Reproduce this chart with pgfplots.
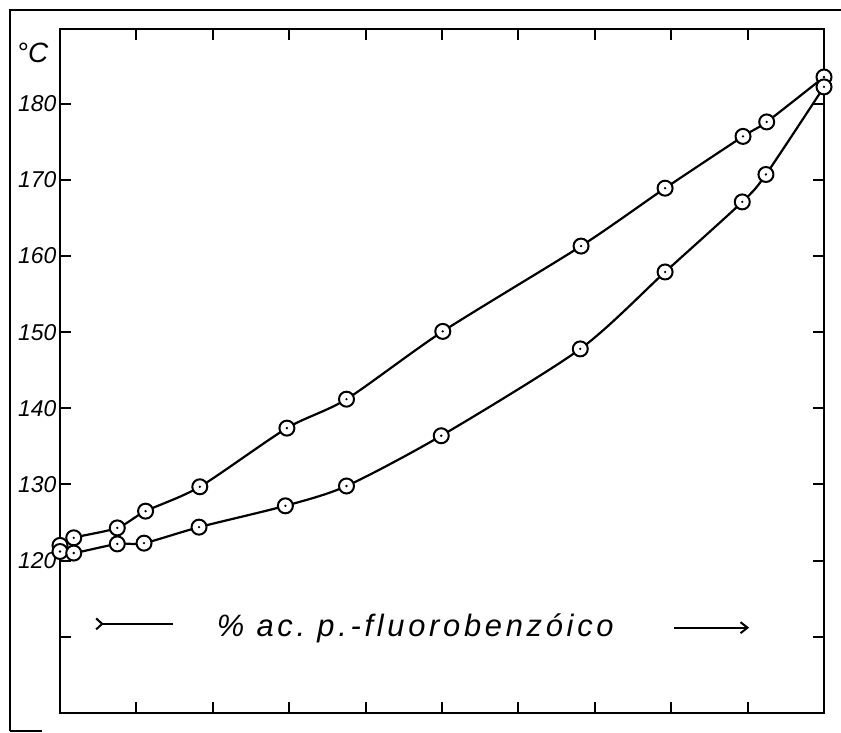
\documentclass[border=0pt]{standalone}
\usepackage{fontspec}
\setmainfont{Liberation Sans}
\usepackage{pgfplots}
\pgfplotsset{compat=1.18}
\usetikzlibrary{arrows.meta}
\pgfdeclareplotmark{odot}{%
  \pgfpathcircle{\pgfpointorigin}{\pgfplotmarksize}%
  \pgfsetfillcolor{white}\pgfusepathqfillstroke
  \pgfsetfillcolor{black}%
  \pgfpathcircle{\pgfpointorigin}{1.3bp}\pgfusepathqfill}
\begin{document}
\begin{tikzpicture}
\begin{axis}[
  at={(0,0)}, anchor=south west,
  scale only axis, width=764bp, height=684bp,
  xmin=0, xmax=100, ymin=100, ymax=189.8,
  axis line style={line width=2.2bp},
  xtick={10,20,...,90}, xticklabels={},
  ytick={110,120,...,180}, yticklabels={{},120,130,140,150,160,170,180},
  tick align=inside, major tick length=11bp,
  tick style={line width=2bp, black},
  yticklabel style={font=\fontsize{23}{23}\selectfont\itshape},
  /pgf/number format/assume math mode=true,
  clip=false,
]
\addplot[line width=2.2bp, smooth, tension=0.45, mark=odot, mark size=7.5bp, mark options={line width=2bp}] coordinates {
  (0,122.0) (1.8,123.0) (7.5,124.3) (11.2,126.5) (18.3,129.7) (29.7,137.4)
  (37.5,141.2) (50.1,150.1) (68.2,161.3) (79.2,168.9) (89.4,175.7) (92.5,177.6) (100,183.5)};
\addplot[line width=2.2bp, smooth, tension=0.45, mark=odot, mark size=7.5bp, mark options={line width=2bp}] coordinates {
  (0,121.2) (1.8,121.0) (7.5,122.2) (11.0,122.3) (18.2,124.4) (29.5,127.2)
  (37.5,129.8) (49.9,136.4) (68.1,147.8) (79.2,157.9) (89.3,167.1) (92.4,170.7) (100,182.2)};
\node[anchor=base west, inner sep=0pt] at (axis cs:20.5,110.0)
  {\fontsize{31}{31}\selectfont\itshape\addfontfeature{LetterSpace=12}\%~ac.~p.-fluorobenzóico};
\node at (axis cs:-3.6,186.6) {\fontsize{28}{28}\selectfont\itshape °C};
\draw[line width=2bp, {Straight Barb[reversed, length=6bp, width=11bp]}-] (axis cs:4.6,111.7) -- (axis cs:14.8,111.7);
\draw[line width=2bp, -{Straight Barb[length=7bp, width=11bp]}] (axis cs:80.4,111.2) -- (axis cs:90.2,111.2);
\end{axis}
\draw[line width=2.2bp] (-50bp,-18bp) -- (-50bp,703bp) -- (781bp,703bp);
\draw[line width=1.5bp] (-50bp,-18bp) -- (-18bp,-18bp);
\pgfresetboundingbox
\useasboundingbox (-60bp,-20bp) rectangle (781bp,713bp);
\end{tikzpicture}
\end{document}
